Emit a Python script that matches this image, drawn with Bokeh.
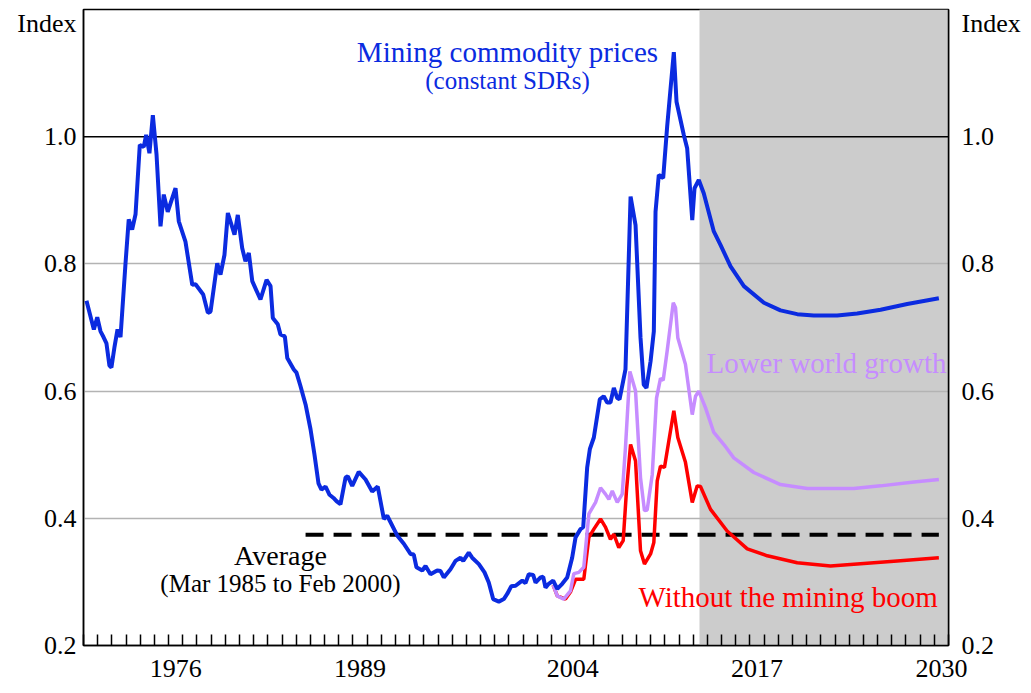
from bokeh.plotting import figure
from bokeh.models import (FixedTicker, LinearAxis, BoxAnnotation, Span, Label,
                          Range1d, PrintfTickFormatter, CustomJSTickFormatter)
from bokeh.embed import file_html
from bokeh.resources import INLINE

# ---------------- data ----------------
mining_years = [1970.21, 1970.73, 1970.97, 1971.20, 1971.41, 1971.62, 1971.83, 1971.97,
                1972.19, 1972.40, 1972.61, 1972.96, 1973.19, 1973.43, 1973.67, 1973.97,
                1974.25, 1974.42, 1974.65, 1974.89, 1975.15, 1975.43, 1975.66, 1975.94,
                1976.49, 1976.72, 1977.19, 1977.67, 1977.90, 1978.44, 1978.77, 1978.96,
                1979.43, 1979.66, 1979.94, 1980.18, 1980.65, 1980.88, 1981.19, 1981.42,
                1981.66, 1981.90, 1982.48, 1982.91, 1983.19, 1983.35, 1983.70, 1983.89,
                1984.20, 1984.37, 1984.83, 1985.02, 1985.30, 1985.66, 1986.01, 1986.29,
                1986.57, 1986.78, 1987.07, 1987.35, 1987.63, 1987.84, 1988.12, 1988.48,
                1988.64, 1988.95, 1989.41, 1989.89, 1990.36, 1990.75, 1991.18, 1991.42,
                1992.12, 1992.59, 1993.06, 1993.29, 1993.48, 1993.89, 1994.12, 1994.47,
                1994.94, 1995.18, 1995.41, 1995.88, 1996.23, 1996.59, 1996.78, 1997.17,
                1997.41, 1997.88, 1998.28, 1998.58, 1998.89, 1999.29, 1999.64, 1999.88,
                2000.16, 2000.47, 2000.94, 2001.17, 2001.40, 2001.71, 2001.88, 2002.23,
                2002.42, 2002.58, 2002.81, 2003.12, 2003.41, 2003.76, 2004.11, 2004.46,
                2004.70, 2005.05, 2005.24, 2005.52, 2005.71, 2005.99, 2006.41, 2006.69,
                2006.93, 2007.16, 2007.40, 2007.64, 2007.80, 2008.06, 2008.22, 2008.58,
                2008.93, 2009.28, 2009.51, 2009.70, 2009.99, 2010.22, 2010.34, 2010.57,
                2010.88, 2011.16, 2011.63, 2011.82, 2012.33, 2012.57, 2012.93, 2013.09,
                2013.39, 2013.74, 2014.45, 2014.92, 2015.63, 2016.57, 2017.98, 2019.15,
                2020.33, 2021.50, 2023.15, 2024.56, 2026.21, 2028.09, 2030.32]
mining_prices = [0.742, 0.697, 0.716, 0.694, 0.685, 0.675, 0.640, 0.637,
                 0.670, 0.697, 0.685, 0.800, 0.870, 0.854, 0.878, 0.987,
                 0.984, 1.003, 0.974, 1.034, 0.972, 0.859, 0.909, 0.882,
                 0.919, 0.867, 0.835, 0.767, 0.768, 0.752, 0.723, 0.725,
                 0.801, 0.783, 0.814, 0.880, 0.846, 0.877, 0.825, 0.804,
                 0.817, 0.773, 0.744, 0.775, 0.765, 0.715, 0.705, 0.689,
                 0.686, 0.652, 0.634, 0.629, 0.608, 0.579, 0.540, 0.500,
                 0.455, 0.445, 0.450, 0.437, 0.432, 0.427, 0.422, 0.464,
                 0.466, 0.451, 0.473, 0.461, 0.442, 0.450, 0.399, 0.404,
                 0.373, 0.360, 0.344, 0.343, 0.323, 0.318, 0.325, 0.312,
                 0.318, 0.317, 0.307, 0.320, 0.333, 0.338, 0.333, 0.346,
                 0.338, 0.328, 0.315, 0.299, 0.273, 0.269, 0.273, 0.281,
                 0.293, 0.294, 0.302, 0.298, 0.312, 0.311, 0.299, 0.307,
                 0.308, 0.291, 0.297, 0.302, 0.289, 0.297, 0.307, 0.338,
                 0.370, 0.383, 0.386, 0.480, 0.509, 0.527, 0.587, 0.592,
                 0.582, 0.582, 0.605, 0.589, 0.587, 0.616, 0.634, 0.906,
                 0.861, 0.684, 0.610, 0.605, 0.647, 0.694, 0.882, 0.940,
                 0.935, 1.016, 1.133, 1.055, 1.003, 0.982, 0.869, 0.919,
                 0.932, 0.911, 0.851, 0.830, 0.796, 0.765, 0.739, 0.727,
                 0.721, 0.719, 0.719, 0.722, 0.728, 0.737, 0.746]

lower_years = [2003.12, 2003.41, 2003.87, 2004.34, 2004.58, 2004.93, 2005.28, 2005.64,
               2006.11, 2006.46, 2006.81, 2007.05, 2007.29, 2007.64, 2007.99, 2008.22,
               2008.53, 2008.93, 2009.28, 2009.56, 2009.75, 2010.11, 2010.41, 2010.69,
               2010.88, 2011.16, 2011.59, 2011.75, 2011.91, 2012.45, 2012.93, 2013.16,
               2013.39, 2013.86, 2014.45, 2015.16, 2015.86, 2017.27, 2019.15, 2021.04,
               2024.32, 2026.21, 2028.56, 2030.32]
lower_growth = [0.295, 0.278, 0.273, 0.286, 0.313, 0.315, 0.323, 0.407,
                0.425, 0.448, 0.438, 0.430, 0.443, 0.425, 0.438, 0.511,
                0.631, 0.600, 0.464, 0.412, 0.413, 0.469, 0.589, 0.620,
                0.617, 0.663, 0.739, 0.731, 0.684, 0.642, 0.563, 0.592,
                0.600, 0.574, 0.535, 0.516, 0.495, 0.472, 0.453, 0.447,
                0.447, 0.451, 0.457, 0.461]

noboom_years = [2003.12, 2003.41, 2003.99, 2004.34, 2004.70, 2005.28, 2005.64, 2005.99,
                2006.46, 2006.81, 2007.16, 2007.40, 2007.75, 2008.06, 2008.29, 2008.58,
                2008.93, 2009.28, 2009.56, 2009.99, 2010.22, 2010.46, 2010.69, 2010.97,
                2011.28, 2011.63, 2011.91, 2012.45, 2012.93, 2013.28, 2013.51, 2014.22,
                2015.39, 2016.81, 2018.22, 2020.33, 2022.68, 2025.03, 2027.38, 2030.32]
without_boom = [0.295, 0.278, 0.273, 0.284, 0.304, 0.304, 0.370, 0.383,
                0.399, 0.386, 0.367, 0.375, 0.354, 0.365, 0.443, 0.516,
                0.490, 0.349, 0.328, 0.344, 0.362, 0.459, 0.482, 0.480,
                0.522, 0.569, 0.527, 0.488, 0.425, 0.451, 0.450, 0.414,
                0.380, 0.352, 0.341, 0.330, 0.325, 0.329, 0.333, 0.338]

average_value = 0.374          # Mar 1985 to Feb 2000 average
average_span = [1985.66, 2030.32]
forecast_start = 2013.44
reference_level = 1.0

label_years = [1976, 1989, 2004, 2017, 2030]
year_ticks = list(range(1970, 2032))
y_ticks = [0.2, 0.4, 0.6, 0.8, 1.0]
grid_ticks = [0.4, 0.6, 0.8]
unit_label = "Index"
unit_label_pos = 1.178

# ---------------- styling ----------------
FONT = "Liberation Serif"
BLUE = "#0b2be0"
PURPLE = "#c68cff"
RED = "#ff0000"

p = figure(width=1031, height=693, x_range=Range1d(1970, 2031), y_range=Range1d(0.2, 1.2),
           output_backend="svg", toolbar_location=None,
           min_border_left=83, min_border_right=83, min_border_top=9, min_border_bottom=48)

p.outline_line_color = "black"
p.outline_line_width = 1.5
p.background_fill_color = "white"
p.border_fill_color = "white"

# x axis: yearly tick marks inside, labels centred in the year
xa = p.xaxis[0]
xa.ticker = FixedTicker(ticks=[y + 0.5 for y in label_years], minor_ticks=year_ticks)
xa.formatter = PrintfTickFormatter(format="%d")
xa.major_tick_in = 0
xa.major_tick_out = 0
xa.minor_tick_in = 11
xa.minor_tick_out = 0
xa.minor_tick_line_color = "black"
xa.minor_tick_line_width = 1.5
xa.axis_line_color = "black"
xa.axis_line_width = 1.5
xa.major_label_text_font = FONT
xa.major_label_text_font_size = "26px"
xa.major_label_text_color = "black"
xa.major_label_standoff = 14

y_formatter_code = """
return tick > 1.1 ? label : tick.toFixed(1);
"""

def style_y(ax):
    ax.ticker = FixedTicker(ticks=y_ticks + [unit_label_pos])
    ax.formatter = CustomJSTickFormatter(code=y_formatter_code, args=dict(label=unit_label))
    ax.major_tick_in = 0
    ax.major_tick_out = 0
    ax.minor_tick_line_color = None
    ax.axis_line_color = "black"
    ax.axis_line_width = 1.5
    ax.major_label_text_font = FONT
    ax.major_label_text_font_size = "26px"
    ax.major_label_text_color = "black"
    ax.major_label_standoff = 13

style_y(p.yaxis[0])
p.yaxis[0].major_label_standoff = 7
ra = LinearAxis()
style_y(ra)
p.add_layout(ra, "right")

p.xgrid.visible = False
p.ygrid.ticker = FixedTicker(ticks=grid_ticks)
p.ygrid.grid_line_color = "#b3b3b3"
p.ygrid.grid_line_width = 1.5

# forecast shading
p.add_layout(BoxAnnotation(left=forecast_start, right=2031, fill_color="#cccccc",
                           fill_alpha=1.0, line_alpha=0, level="image"))
p.add_layout(Span(location=reference_level, dimension="width", line_color="black",
                  line_width=1.5, level="underlay"))

# average line
p.line(average_span, [average_value, average_value], line_color="black",
       line_width=4, line_dash="18 10")

p.line(noboom_years, without_boom, line_color=RED, line_width=3.5)
p.line(lower_years, lower_growth, line_color=PURPLE, line_width=3.5)
p.line(mining_years, mining_prices, line_color=BLUE, line_width=4)

def lab(x, y, text, color, size, align="center", **kw):
    p.add_layout(Label(x=x, y=y, text=text, text_color=color, text_font=FONT,
                       text_font_size=size, text_align=align,
                       text_baseline="alphabetic", **kw))

lab(1999.9, 1.133, "Mining commodity prices", BLUE, "29px")
lab(1999.9, 1.089, "(constant SDRs)", BLUE, "25px")
lab(2013.93, 0.644, "Lower world growth", PURPLE, "29px", align="left")
lab(2009.14, 0.277, "Without the mining boom", RED, "29px", align="left")
lab(1983.89, 0.342, "Average", "black", "28px")
lab(1983.89, 0.298, "(Mar 1985 to Feb 2000)", "black", "25px")

open("out.html", "w").write(file_html(p, INLINE))
